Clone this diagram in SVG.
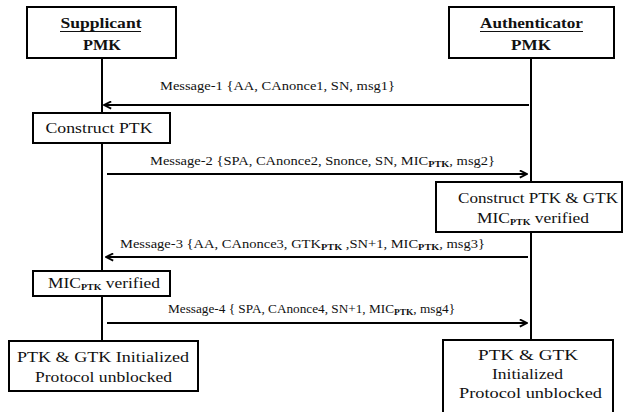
<svg xmlns="http://www.w3.org/2000/svg" width="624" height="412" viewBox="0 0 624 412">
<style>
.box{fill:#fff;stroke:#000;stroke-width:2}
.life{stroke:#000;stroke-width:2;fill:none}
.msg{stroke:#000;stroke-width:2;fill:none}
.t{font-family:"Liberation Serif","DejaVu Serif",serif;fill:#111}
.lbl{font-size:12px}
.bx{font-size:15px;text-anchor:middle}
.ttl{font-size:15px;font-weight:bold;text-anchor:middle}
.sub{font-size:8.5px;font-weight:bold}
</style>
<defs>
<marker id="ah" viewBox="0 0 10 10" refX="9" refY="5" markerWidth="9" markerHeight="9" markerUnits="userSpaceOnUse" orient="auto">
<path d="M1,1 L9,5 L1,9" fill="none" stroke="#000" stroke-width="2"/>
</marker>
</defs>
<rect width="624" height="412" fill="#fff"/>
<g id="lifelines">
<line class="life" x1="102" y1="58" x2="102" y2="341"/>
<line class="life" x1="531" y1="58" x2="531" y2="340"/>
</g>
<g id="connectors">
<line class="msg" x1="529" y1="105" x2="104" y2="105" marker-end="url(#ah)"/>
<line class="msg" x1="107" y1="174" x2="527" y2="174" marker-end="url(#ah)"/>
<line class="msg" x1="528" y1="257" x2="106" y2="257" marker-end="url(#ah)"/>
<line class="msg" x1="107" y1="323" x2="527" y2="323" marker-end="url(#ah)"/>
<text class="t lbl" x="160" y="90" textLength="235" lengthAdjust="spacingAndGlyphs">Message-1 {AA,  CAnonce1, SN,  msg1}</text>
<text class="t lbl" x="150" y="165" textLength="345" lengthAdjust="spacingAndGlyphs">Message-2 {SPA, CAnonce2, Snonce, SN, MIC<tspan class="sub" dy="2">PTK</tspan><tspan dy="-2">, msg2}</tspan></text>
<text class="t lbl" x="120" y="248" textLength="365" lengthAdjust="spacingAndGlyphs">Message-3 {AA,  CAnonce3, GTK<tspan class="sub" dy="2">PTK</tspan><tspan dy="-2"> ,SN+1, MIC</tspan><tspan class="sub" dy="2">PTK</tspan><tspan dy="-2">, msg3}</tspan></text>
<text class="t lbl" x="168" y="313" textLength="287" lengthAdjust="spacingAndGlyphs">Message-4 { SPA, CAnonce4, SN+1, MIC<tspan class="sub" dy="2">PTK</tspan><tspan dy="-2">, msg4}</tspan></text>
</g>
<g id="supplicant">
<rect class="box" x="27" y="7" width="149" height="51"/>
<text class="t ttl" x="101" y="28" textLength="81" lengthAdjust="spacingAndGlyphs">Supplicant</text>
<line x1="60" y1="31.5" x2="141" y2="31.5" stroke="#111" stroke-width="1"/>
<text class="t ttl" x="102" y="50" textLength="38" lengthAdjust="spacingAndGlyphs">PMK</text>
</g>
<g id="authenticator">
<rect class="box" x="449" y="7" width="165" height="51"/>
<text class="t ttl" x="531.5" y="28" textLength="103" lengthAdjust="spacingAndGlyphs">Authenticator</text>
<line x1="480" y1="31.5" x2="583" y2="31.5" stroke="#111" stroke-width="1"/>
<text class="t ttl" x="531" y="50" textLength="40" lengthAdjust="spacingAndGlyphs">PMK</text>
</g>
<g id="construct-ptk">
<rect class="box" x="33" y="113" width="137" height="30"/>
<text class="t bx" x="99" y="133" textLength="107" lengthAdjust="spacingAndGlyphs">Construct PTK</text>
</g>
<g id="construct-ptk-gtk">
<rect class="box" x="436" y="182" width="186" height="50"/>
<text class="t bx" x="538" y="203" textLength="160" lengthAdjust="spacingAndGlyphs">Construct PTK &amp; GTK</text>
<text class="t bx" x="533" y="223" textLength="112" lengthAdjust="spacingAndGlyphs">MIC<tspan class="sub" dy="2">PTK</tspan><tspan dy="-2"> verified</tspan></text>
</g>
<g id="mic-verified">
<rect class="box" x="33" y="271" width="137" height="25"/>
<text class="t bx" x="104" y="288" textLength="112" lengthAdjust="spacingAndGlyphs">MIC<tspan class="sub" dy="2">PTK</tspan><tspan dy="-2"> verified</tspan></text>
</g>
<g id="supplicant-done">
<rect class="box" x="9" y="341" width="189" height="50"/>
<text class="t bx" x="103" y="362" textLength="172" lengthAdjust="spacingAndGlyphs">PTK &amp; GTK Initialized</text>
<text class="t bx" x="103.5" y="382" textLength="137" lengthAdjust="spacingAndGlyphs">Protocol unblocked</text>
</g>
<g id="authenticator-done">
<rect class="box" x="443" y="340" width="170" height="75"/>
<text class="t bx" x="528" y="360" textLength="100" lengthAdjust="spacingAndGlyphs">PTK &amp; GTK</text>
<text class="t bx" x="527.5" y="379" textLength="71" lengthAdjust="spacingAndGlyphs">Initialized</text>
<text class="t bx" x="530.5" y="398" textLength="143" lengthAdjust="spacingAndGlyphs">Protocol unblocked</text>
</g>
</svg>
